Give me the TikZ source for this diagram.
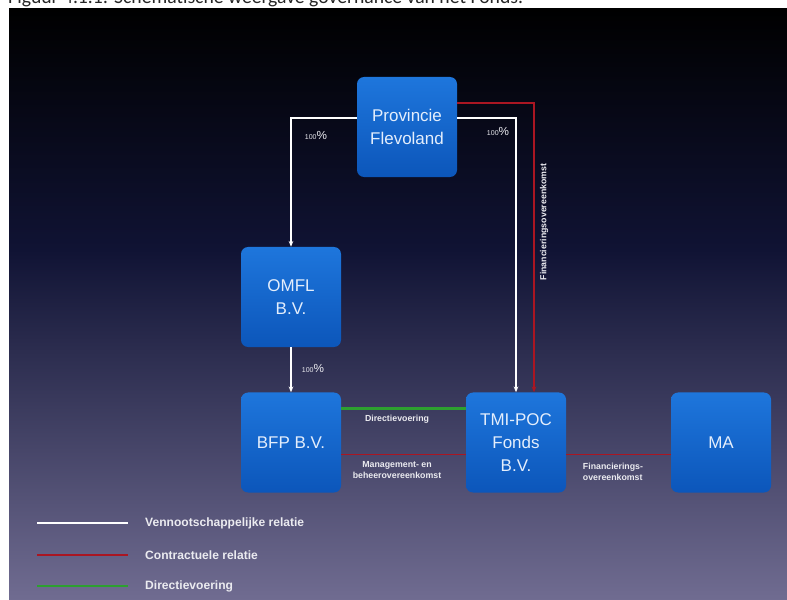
\documentclass[tikz,border=0pt]{standalone}
\usepackage{fontspec}
\setmainfont{Liberation Sans}
\newfontfamily\captionfont{Carlito}
\usetikzlibrary{arrows.meta, calc}
\definecolor{boxtop}{RGB}{30, 118, 220}
\definecolor{boxbot}{RGB}{12, 86, 186}
\definecolor{boxtext}{RGB}{228, 238, 252}
\definecolor{bgmid}{RGB}{16, 19, 52}
\definecolor{bgbot}{RGB}{112, 108, 145}
\definecolor{contractred}{RGB}{170, 22, 34}
\definecolor{directgreen}{RGB}{45, 160, 48}
\definecolor{labelgray}{RGB}{235, 235, 240}

\begin{document}
\begin{tikzpicture}[x=0.03cm, y=-0.03cm,
  entity/.style={rounded corners=6pt, top color=boxtop, bottom color=boxbot, minimum width=3cm, minimum height=3cm, text=boxtext, align=center, font=\fontsize{14.5}{19.5}\selectfont},
  own/.style={white, line width=1.2pt},
  contract/.style={contractred, line width=1.3pt},
  dirline/.style={draw=directgreen, line width=1.8pt},
  tip/.style={-{Stealth[length=5pt, width=4pt]}},
  lbl/.style={labelgray, font=\fontsize{7.5}{9}\selectfont\bfseries, align=center, inner sep=1pt},
  pct/.style={labelgray, inner sep=1pt},
  legend/.style={labelgray, font=\fontsize{10.3}{12}\selectfont\bfseries, anchor=west, inner sep=0pt}]
  \useasboundingbox (0,0) rectangle (787,600);
  \clip (0,0) rectangle (787,600);
  \fill[white] (0,0) rectangle (787,600);

  % bijschrift (valt grotendeels buiten beeld)
  \node[anchor=base west, font=\captionfont\fontsize{16.8}{19}\selectfont, text=black!85, inner sep=0pt] (caption) at (8,4) {Figuur 4.1.1: Schematische weergave governance van het Fonds.};

  % achtergrond
  \shade[top color=black, bottom color=bgmid] (9,9) rectangle (787,250);
  \shade[top color=bgmid, bottom color=bgbot] (9,249.5) rectangle (787,600);

  % entiteiten
  \node[entity] (prov) at (407,127) {Provincie\\Flevoland};
  \node[entity] (omfl) at (291,297) {OMFL\\B.V.};
  \node[entity] (bfp) at (291,442.5) {BFP B.V.};
  \node[entity] (tmi) at (516,442.5) {TMI-POC\\Fonds\\B.V.};
  \node[entity] (ma) at (721,442.5) {MA};

  % vennootschappelijke relaties
  \draw[own, tip] ($(prov.west)+(0,-9)$) -| (omfl.north);
  \draw[own, tip] ($(prov.east)+(0,-9)$) -| (tmi.north);
  \draw[own, tip] (omfl.south) -- (bfp.north);
  \node[pct] (pctomfl) at (316,135) {{\fontsize{6}{7}\selectfont 100}{\fontsize{10}{12}\selectfont\%}};
  \node[pct] (pcttmi) at (498,131) {{\fontsize{6}{7}\selectfont 100}{\fontsize{10}{12}\selectfont\%}};
  \node[pct] (pctbfp) at (313,368) {{\fontsize{6}{7}\selectfont 100}{\fontsize{10}{12}\selectfont\%}};

  % contractuele relaties
  \draw[contract, tip] ($(prov.east)+(0,-24)$) -| ($(tmi.north)+(18,0)$);
  \node[lbl, rotate=90] (finprov) at (544,222) {Financieringsovereenkomst};
  \draw[contract] ($(bfp.east)+(0,12)$) -- ($(tmi.west)+(0,12)$);
  \node[lbl] (mgmt) at (397,470) {Management- en\\beheerovereenkomst};
  \draw[contract] ($(tmi.east)+(0,12)$) -- ($(ma.west)+(0,12)$);
  \node[lbl, align=left] (finma) at (613,472) {Financierings-\\overeenkomst};

  % directievoering
  \draw[dirline] ($(bfp.east)+(0,-34)$) -- ($(tmi.west)+(0,-34)$);
  \node[lbl] (dirlbl) at (397,419) {Directievoering};

  % legenda
  \coordinate (legA1) at (37,523);
  \coordinate (legA2) at (128,523);
  \coordinate (legB1) at (37,555);
  \coordinate (legB2) at (128,555);
  \coordinate (legC1) at (37,586);
  \coordinate (legC2) at (128,586);
  \draw[own] (legA1) -- (legA2);
  \draw[contract] (legB1) -- (legB2);
  \draw[dirline] (legC1) -- (legC2);
  \node[legend] (legAtxt) at (145,523) {Vennootschappelijke relatie};
  \node[legend] (legBtxt) at (145,555) {Contractuele relatie};
  \node[legend] (legCtxt) at (145,586) {Directievoering};
\end{tikzpicture}
\end{document}
